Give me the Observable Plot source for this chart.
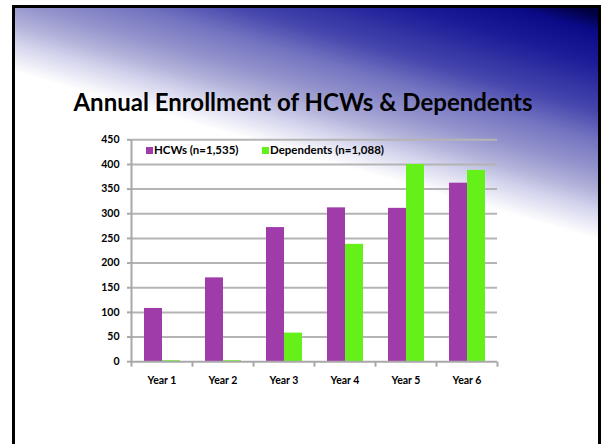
<!DOCTYPE html>
<html>
<head>
<meta charset="utf-8">
<script src="https://cdn.jsdelivr.net/npm/d3@7"></script>
<script src="https://cdn.jsdelivr.net/npm/@observablehq/plot@0.6"></script>
<style>
  body { margin: 0; background: #fff; }
  #slide { position: relative; width: 602px; height: 444px; overflow: hidden; background: #fff; font-family: Lato, "Open Sans", sans-serif; }
  #bg { position: absolute; left: 12px; top: 5px; width: 589px; height: 450px; box-sizing: border-box;
        border: 3px solid #000; border-bottom: none;
        background: linear-gradient(16deg, #ffffff 0px, #ffffff 368px, #d2d2ec 397px, #b2b2da 414px, #9292cc 436px, #7272c0 464px, #4646ad 491px, #1c1c98 537px, #0a0a86 568px, #000040 585px); }
  #title { position: absolute; left: 0; width: 606px; top: 90px; text-align: center; font-weight: 700; font-size: 24px; line-height: 1; color: #000; }
  #chart { position: absolute; left: 0; top: 120px; }
  #legend { position: absolute; top: 143px; left: 146px; font-weight: 700; font-size: 11.5px; line-height: 14px; color: #000; }
  .item { position: absolute; top: 0; white-space: nowrap; }
  .sw { display: inline-block; width: 7px; height: 7px; margin-right: 1px; vertical-align: 0px; }
</style>
</head>
<body>
<div id="slide">
  <div id="bg"></div>
  <div id="title">Annual Enrollment of HCWs &amp; Dependents</div>
  <div id="chart"></div>
  <div id="legend"></div>
</div>
<script>
// ---- data ----
const years = ["Year 1", "Year 2", "Year 3", "Year 4", "Year 5", "Year 6"];
const seriesNames = ["HCWs (n=1,535)", "Dependents (n=1,088)"];
const hcws = [108, 170, 272, 312, 311, 362];
const dependents = [2, 2, 58, 238, 400, 388];
const yTicks = [0, 50, 100, 150, 200, 250, 300, 350, 400, 450];
const seriesColors = ["#a03caa", "#66f01a"];

const rows = years.flatMap((yr, i) => [
  {year: yr, series: seriesNames[0], value: hcws[i]},
  {year: yr, series: seriesNames[1], value: dependents[i]}
]);

const gridColor = "#b4b4b4";
const axisColor = "#a8a8a8";
const plotHeight = 290, mTop = 19.3, mBottom = 48.8;
const innerH = plotHeight - mTop - mBottom;

// small downward tick symbol and vertical axis-line symbol
const tickSym = {draw(ctx) { ctx.moveTo(0, 0); ctx.lineTo(0, 5); }};
const axisLineSym = {draw(ctx) { ctx.moveTo(0, 0); ctx.lineTo(0, -innerH); }};

const chart = Plot.plot({
  width: 602,
  height: plotHeight,
  marginLeft: 130,
  marginRight: 104,
  marginTop: mTop,
  marginBottom: mBottom,
  style: {background: "transparent", overflow: "visible", fontFamily: "Lato, sans-serif"},
  fx: {domain: years, padding: 0, axis: null, label: null},
  x: {domain: seriesNames, paddingInner: 0, paddingOuter: 0.61, axis: null},
  y: {domain: [0, 450], axis: null},
  color: {domain: seriesNames, range: seriesColors},
  marks: [
    Plot.ruleY(yTicks.filter(t => t > 0), {stroke: gridColor, strokeWidth: 2}),
    Plot.barY(rows, {fx: "year", x: "series", y: "value", fill: "series"}),
    Plot.ruleY([0], {stroke: axisColor, strokeWidth: 2}),
    Plot.dot({length: 1}, {frameAnchor: "bottom-left", symbol: tickSym, r: 3, stroke: axisColor, fill: "none", strokeWidth: 2}),
    Plot.dot(["Year 6"], {fx: d => d, frameAnchor: "bottom-right", symbol: tickSym, r: 3, stroke: axisColor, fill: "none", strokeWidth: 2}),
    Plot.dot(["Year 1"], {fx: d => d, frameAnchor: "bottom-left", symbol: axisLineSym, r: 3, stroke: axisColor, fill: "none", strokeWidth: 2}),
    Plot.axisY({ticks: yTicks, tickSize: 4, tickPadding: 8, stroke: axisColor, strokeWidth: 2, color: "#000", fill: "#000", fontWeight: "bold", fontSize: 10.5, label: null}),
    Plot.axisFx({anchor: "bottom", tickSize: 0, tickPadding: 15, color: "#000", fontWeight: "bold", fontSize: 10.5, label: null})
  ]
});
document.getElementById("chart").appendChild(chart);

// legend
const legend = document.getElementById("legend");
const legendLefts = [0, 116];
seriesNames.forEach((name, i) => {
  const item = document.createElement("div");
  item.className = "item";
  item.style.left = legendLefts[i] + "px";
  const sw = document.createElement("span");
  sw.className = "sw";
  sw.style.background = seriesColors[i];
  item.appendChild(sw);
  item.appendChild(document.createTextNode(name));
  legend.appendChild(item);
});
</script>
</body>
</html>
